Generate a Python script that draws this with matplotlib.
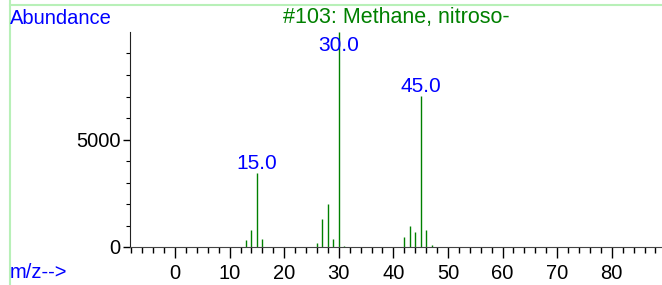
import matplotlib.pyplot as plt
import numpy as np
from matplotlib.ticker import MultipleLocator
from matplotlib.lines import Line2D

plt.rcParams['font.family'] = ['Liberation Sans', 'DejaVu Sans']

# spectrum of Methane, nitroso-
mz = [13, 14, 15, 16, 26, 27, 28, 29, 30, 31, 42, 43, 44, 45, 46, 47]
abundance = [310, 795, 3430, 390, 170, 1290, 1995, 390, 9999, 60,
             480, 1000, 685, 7020, 795, 80]
labelled = [15, 30, 45]

W, H = 662, 285
fig = plt.figure(figsize=(W / 100, H / 100), dpi=100)
ax = fig.add_axes([130 / W, 1 - 247 / H, 1 - 130 / W, (247 - 32) / H])

green = '#008000'
blue = '#0000ff'

ax.vlines(mz, 0, abundance, color=green, lw=1)

ax.set_xlim(-8.24, 89.2)
ax.set_ylim(0, 10000)

for m in labelled:
    h = abundance[mz.index(m)]
    ax.annotate("{:.1f}".format(m), xy=(m, min(h, 8950)), xytext=(0, 0),
                textcoords='offset points', ha='center', va='bottom',
                color=blue, fontsize=15)

ax.spines['top'].set_visible(False)
ax.spines['right'].set_visible(False)
ax.spines['left'].set_color('#222222')
ax.spines['bottom'].set_color('#444444')

ax.xaxis.set_minor_locator(MultipleLocator(2))
ax.set_xticks(np.arange(0, 81, 10))
ax.set_yticks([0, 5000])
ax.set_yticks(np.arange(1000, 10000, 1000), minor=True)
ax.tick_params(axis='x', which='major', length=8, width=1, labelsize=14.5, pad=4)
ax.tick_params(axis='x', which='minor', length=4, width=1)
ax.tick_params(axis='y', which='major', length=5, width=1, labelsize=14.5, pad=2)
ax.tick_params(axis='y', which='minor', length=3, width=0.8)
ax.patch.set_visible(False)

fig.text(396 / W, 1 - 18 / H, "#103: Methane, nitroso-", color=green,
         fontsize=15.5, ha='center', va='center')
fig.text(10 / W, 1 - 18 / H, "Abundance", color=blue, fontsize=14.5,
         ha='left', va='center')
fig.text(10 / W, 1 - 273 / H, "m/z-->", color=blue, fontsize=14.5,
         ha='left', va='center')

# light green frame lines at top and left
fig.add_artist(Line2D([9.5 / W, 1], [1 - 4.5 / H, 1 - 4.5 / H], color='#b8f0b8', lw=1.5))
fig.add_artist(Line2D([9.5 / W, 9.5 / W], [0, 1], color='#b8f0b8', lw=1.5))

fig.savefig('out.png', dpi=100)
